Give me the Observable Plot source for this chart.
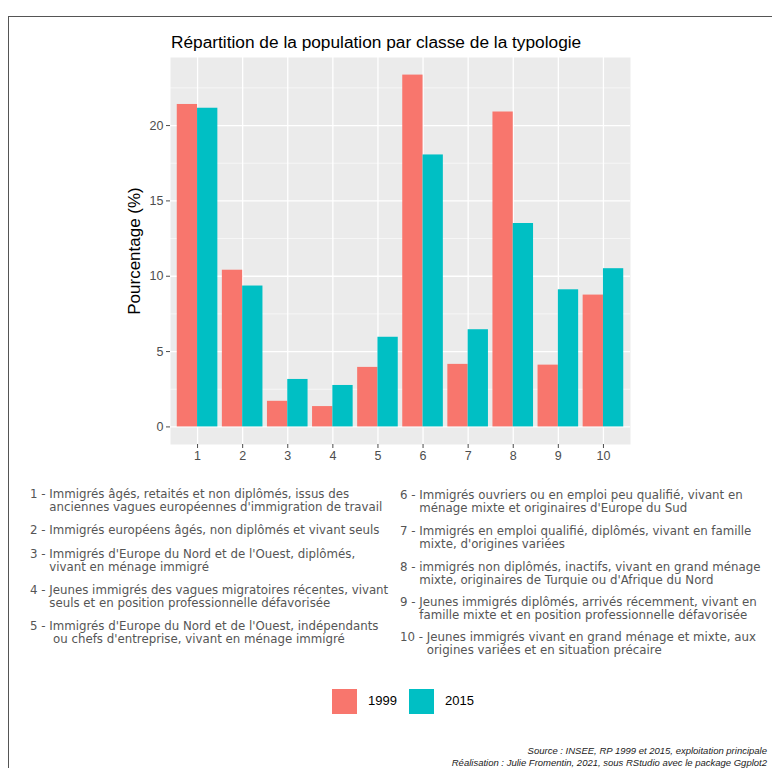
<!DOCTYPE html>
<html><head><meta charset="utf-8">
<script src="https://cdn.jsdelivr.net/npm/d3@7"></script>
<script src="https://cdn.jsdelivr.net/npm/@observablehq/plot@0.6"></script>
<style>
body{margin:0;background:#fff;}
#root{position:relative;width:772px;height:768px;overflow:hidden;background:#fff;font-family:"Liberation Sans",Arial,sans-serif;}
#frame{position:absolute;left:8px;top:16px;width:900px;height:900px;border-left:1.5px solid #555;border-top:1.5px solid #555;}
#chart{position:absolute;left:0;top:0;}
#chart svg [aria-label="y-axis label"] text{font-size:17px;fill:#000;}
#title{position:absolute;left:171px;top:32px;font-size:17.3px;color:#000;white-space:nowrap;}
.item{position:absolute;display:flex;font-family:"DejaVu Sans",sans-serif;font-size:11.8px;line-height:12.5px;color:#555;}
.item .num{white-space:pre;}
.item .txt{white-space:pre;}
.key{position:absolute;top:689px;width:25px;height:25px;}
.keylab{position:absolute;top:693px;font-size:13px;color:#000;}
.foot{position:absolute;right:5px;font-size:9.5px;font-style:italic;color:#222;white-space:nowrap;}
</style></head>
<body>
<div id="root">
  <div id="frame"></div>
  <div id="chart"></div>
</div>
<script>
const categories = [1, 2, 3, 4, 5, 6, 7, 8, 9, 10];
const years = ["1999", "2015"];
const values1999 = [21.4, 10.4, 1.7, 1.35, 3.95, 23.35, 4.15, 20.9, 4.1, 8.75];
const values2015 = [21.15, 9.35, 3.15, 2.75, 5.95, 18.05, 6.45, 13.5, 9.1, 10.5];
const yTicks = [0, 5, 10, 15, 20];
const yMinorTicks = [2.5, 7.5, 12.5, 17.5, 22.5];
const yearColors = ["#F8766D", "#00BFC4"];
const titleText = "Répartition de la population par classe de la typologie";
const yLabel = "Pourcentage (%)";
const descriptions = [
  "Immigrés âgés, retaités et non diplômés, issus des\nanciennes vagues européennes d'immigration de travail",
  "Immigrés européens âgés, non diplômés et vivant seuls",
  "Immigrés d'Europe du Nord et de l'Ouest, diplômés,\nvivant en ménage immigré",
  "Jeunes immigrés des vagues migratoires récentes, vivant\nseuls et en position professionnelle défavorisée",
  "Immigrés d'Europe du Nord et de l'Ouest, indépendants\n ou chefs d'entreprise, vivant en ménage immigré",
  "Immigrés ouvriers ou en emploi peu qualifié, vivant en\nménage mixte et originaires d'Europe du Sud",
  "Immigrés en emploi qualifié, diplômés, vivant en famille\nmixte, d'origines variées",
  "immigrés non diplômés, inactifs, vivant en grand ménage\nmixte, originaires de Turquie ou d'Afrique du Nord",
  "Jeunes immigrés diplômés, arrivés récemment, vivant en\nfamille mixte et en position professionnelle défavorisée",
  "Jeunes immigrés vivant en grand ménage et mixte, aux\norigines variées et en situation précaire"
];
const footerLines = [
  "Source : INSEE, RP 1999 et 2015, exploitation principale",
  "Réalisation : Julie Fromentin, 2021, sous RStudio avec le package Ggplot2"
];

// table for the library
const rows = categories.flatMap((c, i) => [
  {cat: c, year: years[0], value: values1999[i]},
  {cat: c, year: years[1], value: values2015[i]}
]);
const barWidth = 0.9;
const half = barWidth / 2;
const maxV = d3.max(rows, d => d.value);
const expand = maxV * 0.05;

const chart = Plot.plot({
  width: 772,
  height: 470,
  marginLeft: 170,
  marginRight: 142,
  marginTop: 57,
  marginBottom: 26,
  style: {fontFamily: "'Liberation Sans', Arial, sans-serif", fontSize: "12.5px", background: "transparent"},
  x: {domain: [categories[0] - 0.6, categories[categories.length - 1] + 0.6]},
  y: {domain: [-expand, maxV + expand]},
  color: {domain: years, range: yearColors},
  marks: [
    Plot.frame({fill: "#EBEBEB", stroke: null}),
    Plot.ruleY(yMinorTicks, {stroke: "#fff", strokeWidth: 0.6}),
    Plot.ruleY(yTicks, {stroke: "#fff", strokeWidth: 1.3}),
    Plot.ruleX(categories, {stroke: "#fff", strokeWidth: 1.3}),
    Plot.rectY(rows, {
      x1: d => d.cat - half + years.indexOf(d.year) * half,
      x2: d => d.cat + years.indexOf(d.year) * half,
      y1: 0,
      y2: "value",
      fill: "year"
    }),
    Plot.axisY({ticks: yTicks, tickSize: 4, tickPadding: 3, color: "#4D4D4D",
      label: yLabel, labelAnchor: "center", labelOffset: 43, labelArrow: "none"}),
    Plot.axisX({ticks: categories, tickSize: 4, tickPadding: 3, color: "#4D4D4D", label: null, tickFormat: d => String(d)})
  ]
});
document.getElementById("chart").appendChild(chart);

const root = document.getElementById("root");
const title = document.createElement("div");
title.id = "title";
title.textContent = titleText;
root.appendChild(title);

// description layout (positions only)
const colX = [30, 400];
const leftTops = [488, 524, 548, 584, 620];
const rightTops = [489, 525, 561, 596, 631];
descriptions.forEach((t, i) => {
  const el = document.createElement("div");
  el.className = "item";
  const col = i < 5 ? 0 : 1;
  el.style.left = colX[col] + "px";
  el.style.top = (col === 0 ? leftTops[i] : rightTops[i - 5]) + "px";
  const n = document.createElement("span");
  n.className = "num";
  n.textContent = categories[i] + " - ";
  const s = document.createElement("span");
  s.className = "txt";
  s.textContent = t;
  el.appendChild(n); el.appendChild(s);
  root.appendChild(el);
});

// legend
const keyX = [332, 409];
years.forEach((y, i) => {
  const k = document.createElement("div");
  k.className = "key";
  k.style.left = keyX[i] + "px";
  k.style.background = yearColors[i];
  root.appendChild(k);
  const l = document.createElement("div");
  l.className = "keylab";
  l.style.left = (keyX[i] + 36) + "px";
  l.textContent = y;
  root.appendChild(l);
});

footerLines.forEach((t, i) => {
  const f = document.createElement("div");
  f.className = "foot";
  f.style.top = (745 + i * 12) + "px";
  f.textContent = t;
  root.appendChild(f);
});
</script>
</body></html>
